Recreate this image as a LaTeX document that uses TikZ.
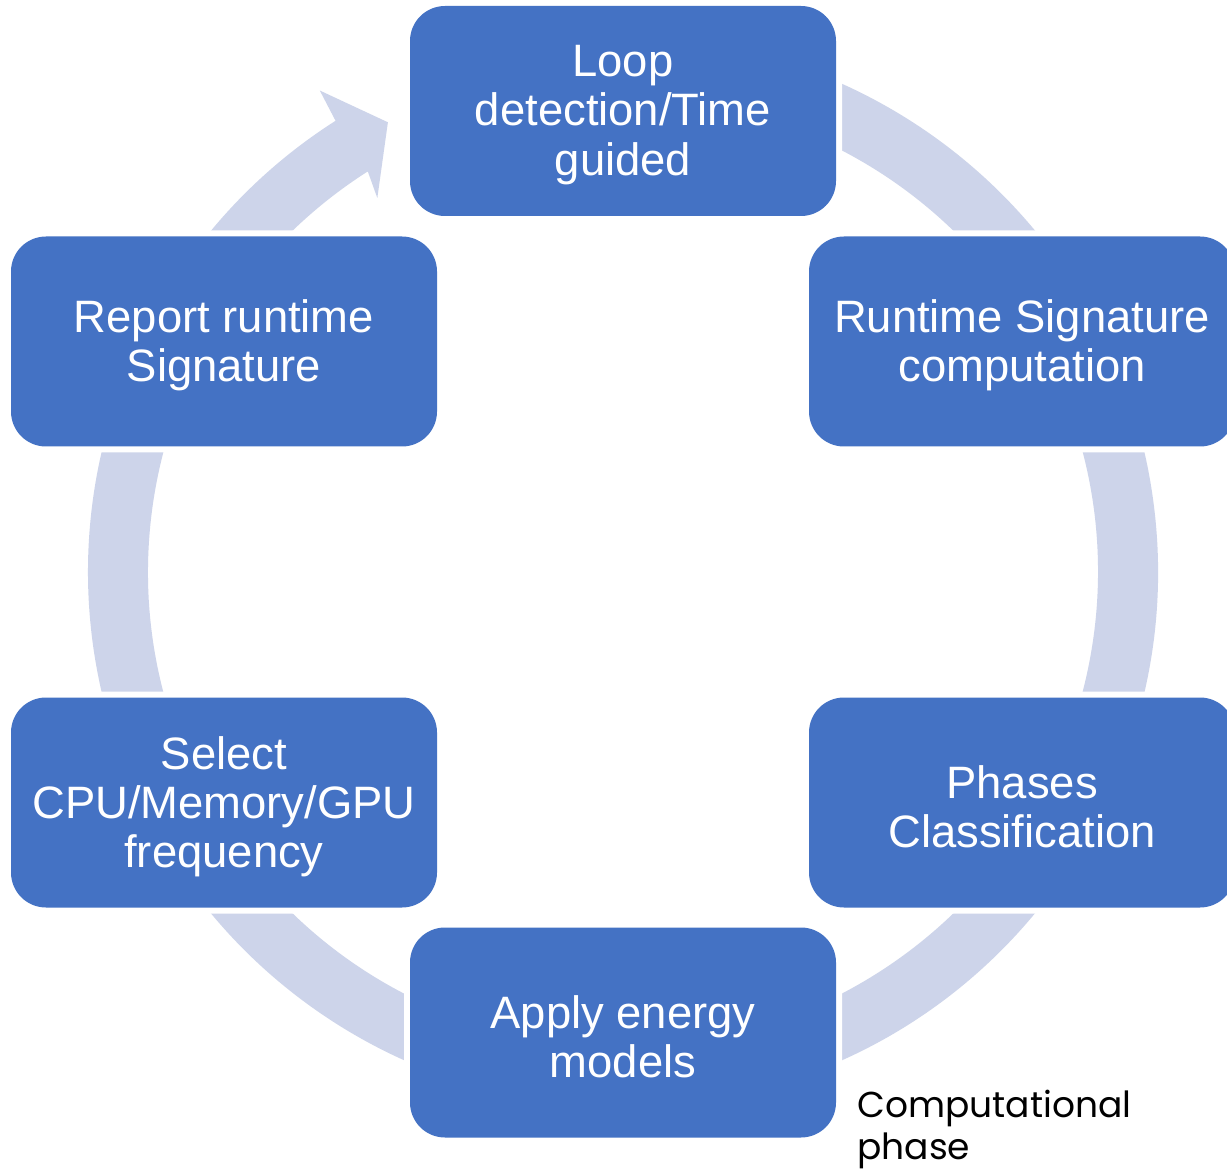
\documentclass[tikz,border=0pt]{standalone}
\usepackage{fontspec}
\setmainfont{Liberation Sans}
\newfontfamily\notefont{Poppins}
\definecolor{boxblue}{RGB}{68,114,196}
\definecolor{ringlav}{RGB}{205,212,234}
\tikzset{
  stage/.style={fill=boxblue, rounded corners=17.5pt,
    minimum width=213pt, minimum height=105pt, inner sep=0pt,
    preaction={draw=white, line width=6pt}},
  stagetext/.style={text=white, align=center, inner sep=0pt,
    font=\fontsize{22.7pt}{24.6pt}\selectfont},
  ring/.style={fill=ringlav},
  note/.style={text=black, align=left, inner sep=0pt,
    font=\notefont\fontsize{18pt}{21pt}\selectfont}
}
\begin{document}
\begin{tikzpicture}[x=0.5pt, y=-0.5pt]
  \useasboundingbox (0,0) rectangle (1227,1171);
  \clip (0,0) rectangle (1227,1171);
  \fill[white] (0,0) rectangle (1227,1171);

  % cycle band running clockwise, ending in an arrow head at the upper left
  \begin{scope}[shift={(623,572)}, yscale=-1]
    \fill[ring] (100:535) arc[start angle=100, end angle=-237.5, radius=535]
      -- (122.2:569) -- (117.6:507.5) -- (123.3:447.5)
      -- (122.5:475) arc[start angle=122.5, end angle=460, radius=475] -- cycle;
  \end{scope}

  % stages of the cycle
  \node[stage] (loop)   at (623,111)    {};
  \node[stage] (sig)    at (1022,341.5) {};
  \node[stage] (phases) at (1022,802.5) {};
  \node[stage] (models) at (623,1032.5) {};
  \node[stage] (freq)   at (224,802.5)  {};
  \node[stage] (report) at (224,341.5)  {};

  % stage captions, set a little below the box centres
  \node[stagetext] (loopt)   at ([yshift=-2pt]loop.center)   {Loop\\detection/Time\\guided};
  \node[stagetext] (sigt)    at ([yshift=-2pt]sig.center)    {Runtime Signature\\computation};
  \node[stagetext] (phasest) at ([yshift=-2pt]phases.center) {Phases\\Classification};
  \node[stagetext] (modelst) at ([yshift=-2pt]models.center) {Apply energy\\models};
  \node[stagetext] (freqt)   at ([yshift=-2pt]freq.center)   {Select\\CPU/Memory/GPU\\frequency};
  \node[stagetext] (reportt) at ([yshift=-2pt]report.center) {Report runtime\\Signature};

  \node[note, anchor=north west] (comp) at (857,1090) {Computational\\phase};
\end{tikzpicture}
\end{document}
